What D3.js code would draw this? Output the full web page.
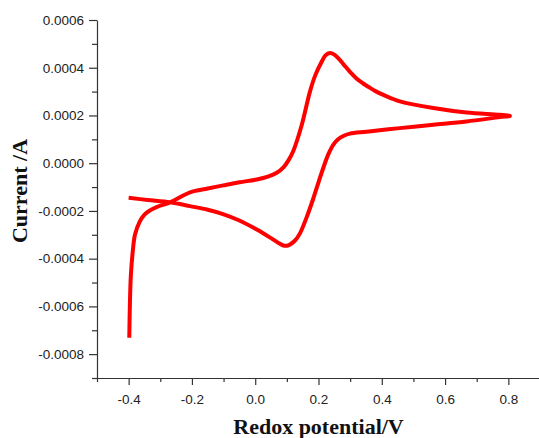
<!DOCTYPE html>
<html>
<head>
<meta charset="utf-8">
<script src="https://cdn.jsdelivr.net/npm/d3@7"></script>
<style>
  body { margin: 0; background: #fff; }
  .tick text { font-family: "Liberation Sans", Arial, sans-serif; font-size: 13.5px; fill: #222; }
  .axis path, .axis line { stroke: #333; stroke-width: 1.2; }
  .axis-title { font-family: "Liberation Serif", "Times New Roman", serif; font-weight: bold; font-size: 22px; fill: #111; }
</style>
</head>
<body>
<div id="chart"></div>
<script>
// forward scan (lower branch), -0.4 V -> 0.8 V
const forwardPotential = [-0.400, -0.340, -0.269, -0.206, -0.150, -0.102, -0.050, 0.005, 0.050, 0.075, 0.092, 0.108, 0.125, 0.141, 0.163, 0.183, 0.200, 0.215, 0.232, 0.247, 0.262, 0.280, 0.299, 0.352, 0.457, 0.563, 0.668, 0.773, 0.805];
const forwardCurrent = [-0.000145, -0.000154, -0.000164, -0.000180, -0.000195, -0.000213, -0.000240, -0.000278, -0.000314, -0.000335, -0.000346, -0.000342, -0.000325, -0.000295, -0.000225, -0.000150, -0.000080, -0.000020, 0.000040, 0.000078, 0.000100, 0.000115, 0.000124, 0.000132, 0.000147, 0.000161, 0.000175, 0.000193, 0.000198];

// reverse scan (upper branch), 0.8 V -> -0.4 V
const reversePotential = [0.773, 0.668, 0.563, 0.457, 0.430, 0.405, 0.380, 0.360, 0.340, 0.320, 0.300, 0.285, 0.268, 0.250, 0.236, 0.222, 0.210, 0.190, 0.173, 0.147, 0.120, 0.105, 0.090, 0.068, 0.040, 0.005, -0.050, -0.101, -0.150, -0.206, -0.269, -0.310, -0.333, -0.350, -0.365, -0.380, -0.387, -0.393, -0.396, -0.398];
const reverseCurrent = [0.000203, 0.000212, 0.000231, 0.000259, 0.000272, 0.000286, 0.000302, 0.000318, 0.000335, 0.000355, 0.000382, 0.000405, 0.000432, 0.000455, 0.000462, 0.000452, 0.000425, 0.000369, 0.000300, 0.000160, 0.000050, 0.000012, -0.000016, -0.000040, -0.000056, -0.000068, -0.000080, -0.000093, -0.000106, -0.000122, -0.000164, -0.000183, -0.000198, -0.000215, -0.000245, -0.000300, -0.000370, -0.000470, -0.000589, -0.000731];

// tick values
const xTicks = [-0.4, -0.2, 0.0, 0.2, 0.4, 0.6, 0.8];
const xMinorTicks = [-0.5, -0.3, -0.1, 0.1, 0.3, 0.5, 0.7, 0.9];
const yTicks = [-0.0008, -0.0006, -0.0004, -0.0002, 0, 0.0002, 0.0004, 0.0006];
const yMinorTicks = [-0.0009, -0.0007, -0.0005, -0.0003, -0.0001, 0.0001, 0.0003, 0.0005];

const xTitle = 'Redox potential/V';
const yTitle = 'Current /A';

const config = {
  containerWidth: 539,
  containerHeight: 438,
  margin: {top: 20, right: 0, bottom: 60, left: 97}
};

const width = 443;
const height = config.containerHeight - config.margin.top - config.margin.bottom;

const svg = d3.select('#chart').append('svg')
  .attr('width', config.containerWidth)
  .attr('height', config.containerHeight);

const chart = svg.append('g')
  .attr('transform', `translate(${config.margin.left},${config.margin.top})`);

const xScale = d3.scaleLinear()
  .domain([-0.5, 0.9])
  .range([0, width]);

const yScale = d3.scaleLinear()
  .domain([-0.0009, 0.0006])
  .range([height, 0]);

// minor ticks first, then the labelled axes on top
chart.append('g')
  .attr('class', 'axis')
  .attr('transform', `translate(0,${height})`)
  .call(d3.axisBottom(xScale).tickValues(xMinorTicks).tickSize(4).tickFormat(''))
  .call(g => g.select('.domain').remove());

chart.append('g')
  .attr('class', 'axis')
  .call(d3.axisLeft(yScale).tickValues(yMinorTicks).tickSize(5).tickFormat(''))
  .call(g => g.select('.domain').remove());

chart.append('g')
  .attr('class', 'axis x-axis')
  .attr('transform', `translate(0,${height})`)
  .call(d3.axisBottom(xScale).tickValues(xTicks).tickSize(7).tickSizeOuter(0).tickPadding(9)
    .tickFormat(d => d.toFixed(1)));

chart.append('g')
  .attr('class', 'axis y-axis')
  .call(d3.axisLeft(yScale).tickValues(yTicks).tickSize(8).tickSizeOuter(0).tickPadding(5)
    .tickFormat(d => d.toFixed(4)));

// voltammogram
const points = forwardPotential.map((d, i) => [d, forwardCurrent[i]])
  .concat(reversePotential.map((d, i) => [d, reverseCurrent[i]]));

const line = d3.line()
  .x(d => xScale(d[0]))
  .y(d => yScale(d[1]))
  .curve(d3.curveCatmullRom.alpha(0.5));

chart.append('path')
  .datum(points)
  .attr('fill', 'none')
  .attr('stroke', '#ff0000')
  .attr('stroke-width', 4)
  .attr('stroke-linejoin', 'round')
  .attr('d', line);

// axis titles
svg.append('text')
  .attr('class', 'axis-title')
  .attr('x', config.margin.left + width / 2)
  .attr('y', 434)
  .attr('text-anchor', 'middle')
  .text(xTitle);

svg.append('text')
  .attr('class', 'axis-title')
  .attr('transform', 'translate(27,191) rotate(-90)')
  .attr('text-anchor', 'middle')
  .text(yTitle);
</script>
</body>
</html>
